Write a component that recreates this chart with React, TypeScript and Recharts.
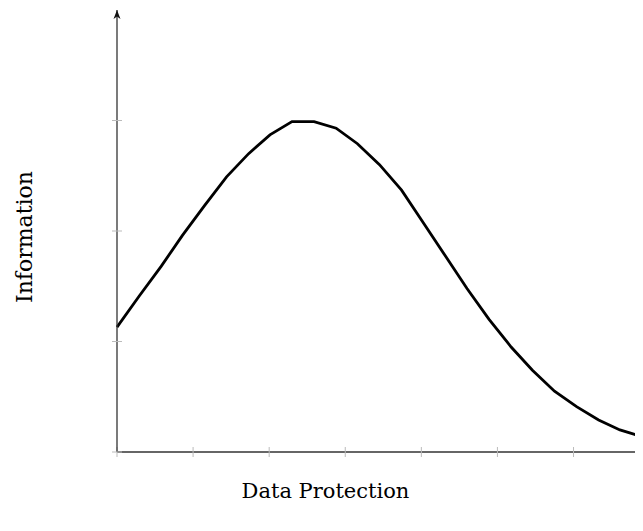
import React from "react";
import { LineChart, Line, XAxis, YAxis, ReferenceDot, Label } from "recharts";

// sampled curve: x position (data protection) and y (information)
const protectionLevels = [
  0, 0.29, 0.58, 0.86, 1.15, 1.44, 1.73, 2.01, 2.3, 2.59, 2.88, 3.16, 3.45,
  3.74, 4.03, 4.31, 4.6, 4.89, 5.18, 5.46, 5.75, 6.04, 6.33, 6.61, 6.9,
];
const informationValues = [
  1.13, 1.41, 1.68, 1.96, 2.23, 2.49, 2.7, 2.87, 2.99, 2.99, 2.93, 2.79, 2.6,
  2.37, 2.07, 1.78, 1.48, 1.2, 0.95, 0.74, 0.55, 0.41, 0.29, 0.2, 0.14,
];
const xTicks = [0, 1, 2, 3, 4, 5, 6, 6.9];
const yTicks = [0, 1, 2, 3];

const data = protectionLevels.map((x, i) => ({ x, y: informationValues[i] }));

const serif = "'DejaVu Serif', 'Liberation Serif', serif";

const Arrow = (props: any) => {
  const { cx, cy } = props;
  return (
    <path
      d={`M${cx},${cy} L${cx - 3.5},${cy + 9} L${cx},${cy + 6.5} L${cx + 3.5},${cy + 9} Z`}
      fill="#111"
    />
  );
};

const YTitle = (props: any) => {
  const { viewBox } = props;
  const x = viewBox.x + 24;
  const y = viewBox.y + viewBox.height / 2 + 6;
  return (
    <text
      x={x}
      y={y}
      transform={`rotate(-90, ${x}, ${y})`}
      textAnchor="middle"
      fontFamily={serif}
      fontSize={22}
      fill="#000"
    >
      Information
    </text>
  );
};

const XTitle = (props: any) => {
  const { viewBox } = props;
  const x = viewBox.x + viewBox.width / 2 - 54;
  const y = viewBox.y + 46;
  return (
    <text x={x} y={y} textAnchor="middle" fontFamily={serif} fontSize={21} fill="#000">
      Data Protection
    </text>
  );
};

const noTick = () => <g />;

export default function App() {
  return (
    <div style={{ width: 635, height: 510 }}>
      <LineChart
        width={635}
        height={510}
        data={data}
        margin={{ top: 2, right: 1, bottom: 0, left: 0 }}
      >
        <XAxis
          dataKey="x"
          type="number"
          domain={[0, 6.9]}
          ticks={xTicks}
          tick={noTick}
          height={66}
          tickSize={10}
          axisLine={{ stroke: "#333", strokeWidth: 1.3 }}
          tickLine={{ stroke: "#bbb", transform: "translate(0,-5)" }}
        >
          <Label content={<XTitle />} />
        </XAxis>
        <YAxis
          type="number"
          domain={[0, 4]}
          ticks={yTicks}
          tick={noTick}
          width={109}
          tickSize={10}
          axisLine={{ stroke: "#333", strokeWidth: 1.3 }}
          tickLine={{ stroke: "#bbb", transform: "translate(5,0)" }}
        >
          <Label content={<YTitle />} />
        </YAxis>
        <ReferenceDot x={0} y={4} ifOverflow="visible" shape={<Arrow />} />
        <Line
          type="linear"
          dataKey="y"
          stroke="#000"
          strokeWidth={2.8}
          dot={false}
          isAnimationActive={false}
        />
      </LineChart>
    </div>
  );
}
